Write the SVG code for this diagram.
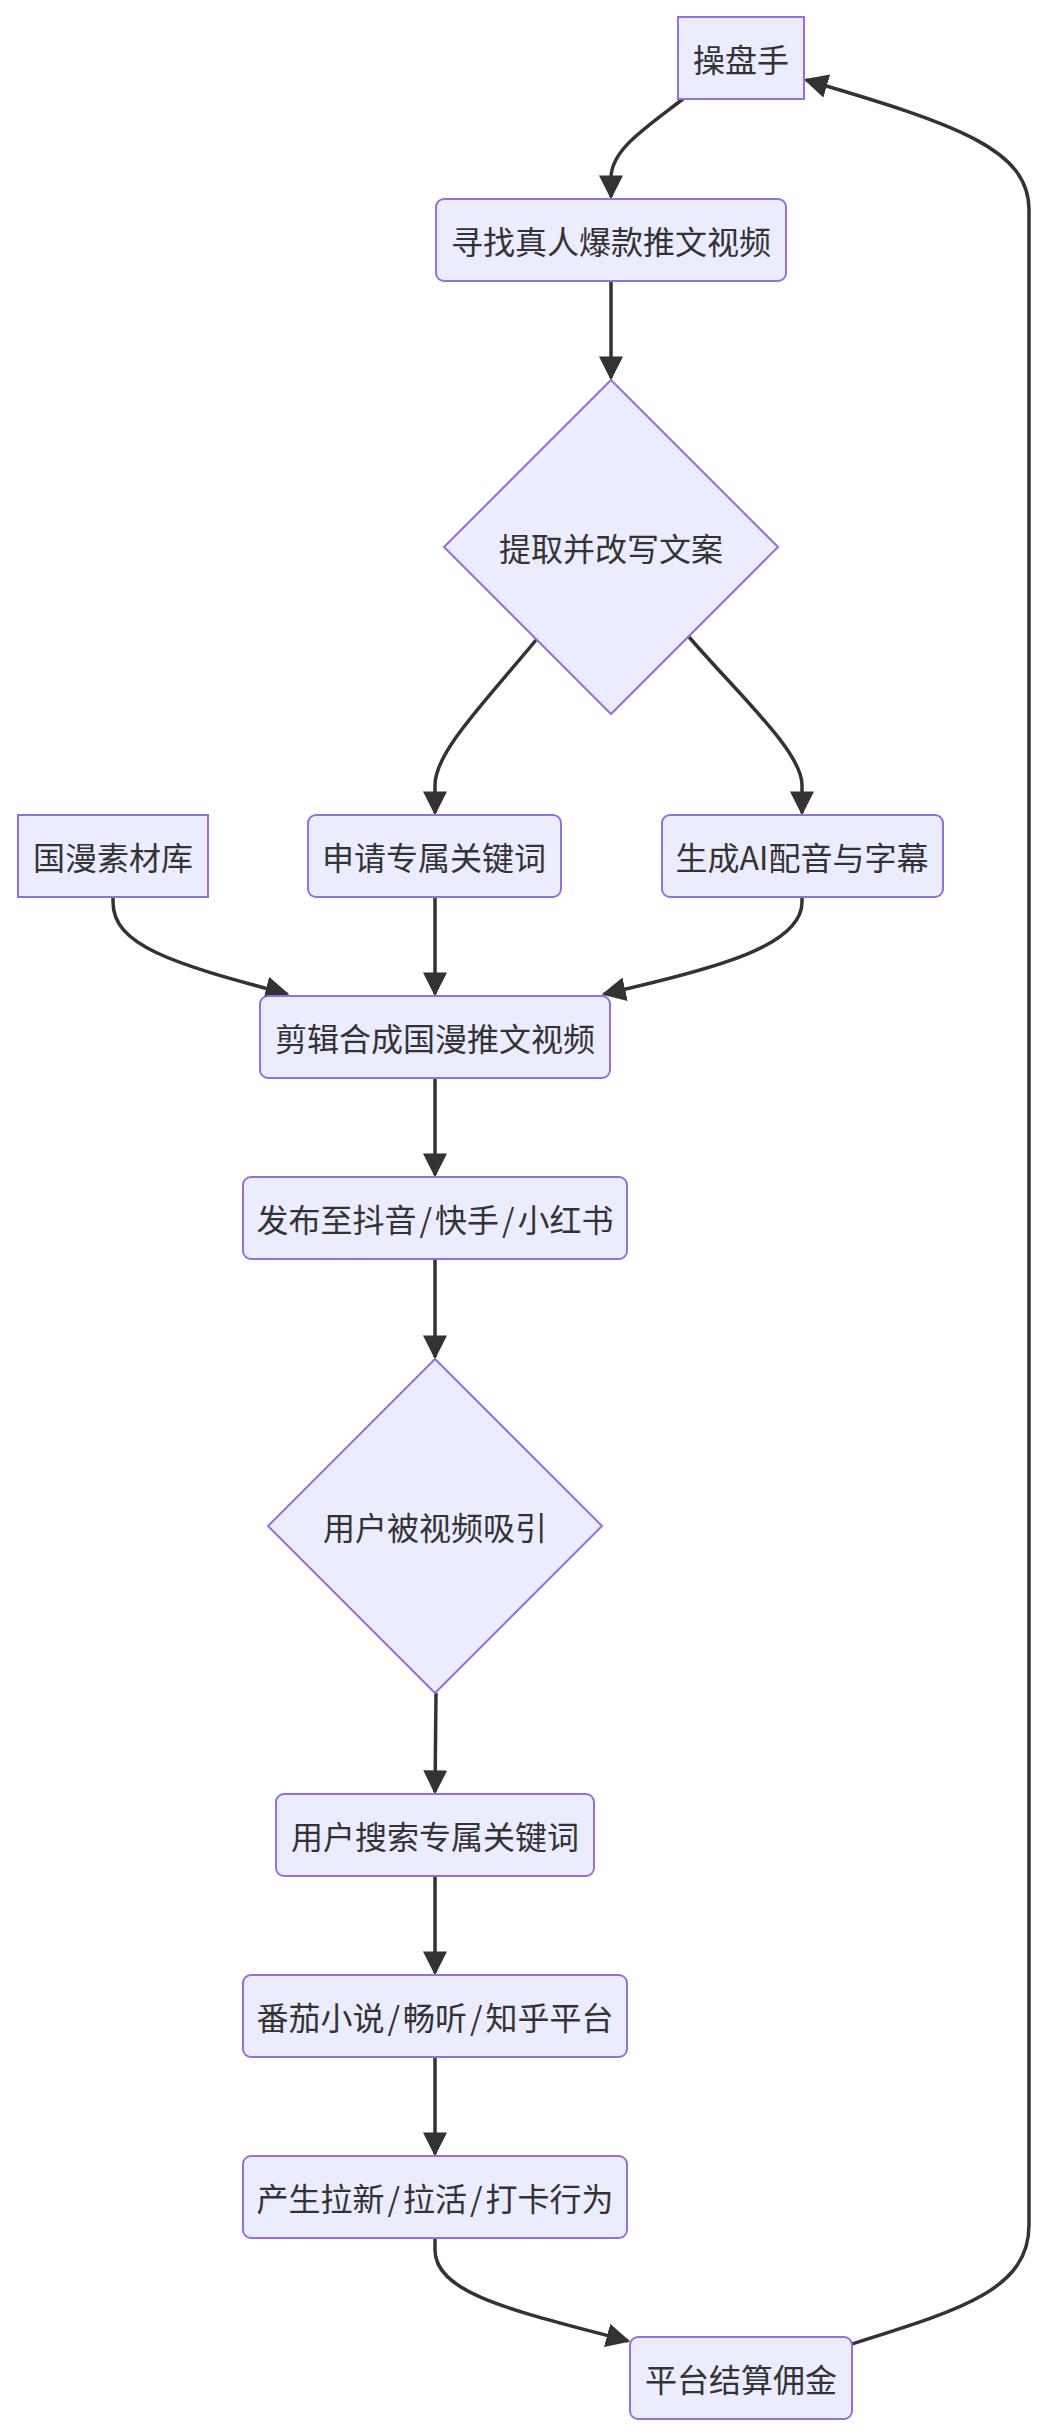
<svg xmlns="http://www.w3.org/2000/svg" width="1048" height="2436" viewBox="0 0 1048 2436">
<style>
.node rect,.node polygon{fill:#ECECFF;stroke:#9370DB;stroke-width:2}
.node text{font-family:"Noto Sans CJK SC","Noto Sans",sans-serif;font-size:32px;fill:#333;text-anchor:middle;dominant-baseline:central}
.edge{fill:none;stroke:#333;stroke-width:3.5;marker-end:url(#arrow)}
</style>
<defs>
<marker id="arrow" viewBox="0 0 10 10" refX="9" refY="5" markerWidth="24" markerHeight="24" markerUnits="userSpaceOnUse" orient="auto">
<path d="M0,0 L10,5 L0,10 z" fill="#333"/>
</marker>
</defs>
<rect width="1048" height="2436" fill="#fff"/>
<g id="edges">
<path class="edge" d="M683,99 C645,128 611,150 611,178 L611,197"/>
<path class="edge" d="M611,281 L611,378"/>
<path class="edge" d="M536,640 C485,702 435,752 435,785 L435,813"/>
<path class="edge" d="M689,637 C740,696 802,752 802,785 L802,813"/>
<path class="edge" d="M113,897 L113,902 C113,945 170,963 287,994"/>
<path class="edge" d="M435,897 L435,994"/>
<path class="edge" d="M802,897 L802,902 C802,945 720,968 604,994"/>
<path class="edge" d="M435,1078 L435,1175"/>
<path class="edge" d="M435,1259 L435,1357"/>
<path class="edge" d="M436,1693 L435,1792"/>
<path class="edge" d="M435,1876 L435,1973"/>
<path class="edge" d="M435,2057 L435,2154"/>
<path class="edge" d="M435,2238 L435,2250 C435,2295 520,2312 628,2341"/>
<path class="edge" d="M852,2344 C960,2310 1029,2290 1029,2225 L1029,210 C1029,150 960,125 806,80"/>
</g>
<g id="n_caopanshou" class="node"><rect x="678" y="17" width="126" height="82"/><text x="741" y="58">操盘手</text></g>
<g id="n_xunzhao" class="node"><rect x="436" y="199" width="350" height="82" rx="8"/><text x="611" y="240">寻找真人爆款推文视频</text></g>
<g id="n_tiqu" class="node"><polygon points="611,380 778,547 611,714 444,547"/><text x="611" y="547">提取并改写文案</text></g>
<g id="n_sucai" class="node"><rect x="18" y="815" width="190" height="82"/><text x="113" y="856">国漫素材库</text></g>
<g id="n_shenqing" class="node"><rect x="308" y="815" width="253" height="82" rx="8"/><text x="434" y="856">申请专属关键词</text></g>
<g id="n_ai" class="node"><rect x="662" y="815" width="281" height="82" rx="8"/><text x="802" y="856">生成AI配音与字幕</text></g>
<g id="n_jianji" class="node"><rect x="260" y="996" width="350" height="82" rx="8"/><text x="435" y="1037">剪辑合成国漫推文视频</text></g>
<g id="n_fabu" class="node"><rect x="243" y="1177" width="384" height="82" rx="8"/><text x="435" y="1218">发布至抖音<tspan dx="3">/</tspan><tspan dx="3">快手</tspan><tspan dx="3">/</tspan><tspan dx="3">小红书</tspan></text></g>
<g id="n_xiyin" class="node"><polygon points="435,1359 602,1526 435,1693 268,1526"/><text x="435" y="1526">用户被视频吸引</text></g>
<g id="n_sousuo" class="node"><rect x="276" y="1794" width="318" height="82" rx="8"/><text x="435" y="1835">用户搜索专属关键词</text></g>
<g id="n_pingtai" class="node"><rect x="243" y="1975" width="384" height="82" rx="8"/><text x="435" y="2016">番茄小说<tspan dx="3">/</tspan><tspan dx="3">畅听</tspan><tspan dx="3">/</tspan><tspan dx="3">知乎平台</tspan></text></g>
<g id="n_laxin" class="node"><rect x="243" y="2156" width="384" height="82" rx="8"/><text x="435" y="2197">产生拉新<tspan dx="3">/</tspan><tspan dx="3">拉活</tspan><tspan dx="3">/</tspan><tspan dx="3">打卡行为</tspan></text></g>
<g id="n_jiesuan" class="node"><rect x="630" y="2337" width="222" height="82" rx="8"/><text x="741" y="2378">平台结算佣金</text></g>
</svg>
